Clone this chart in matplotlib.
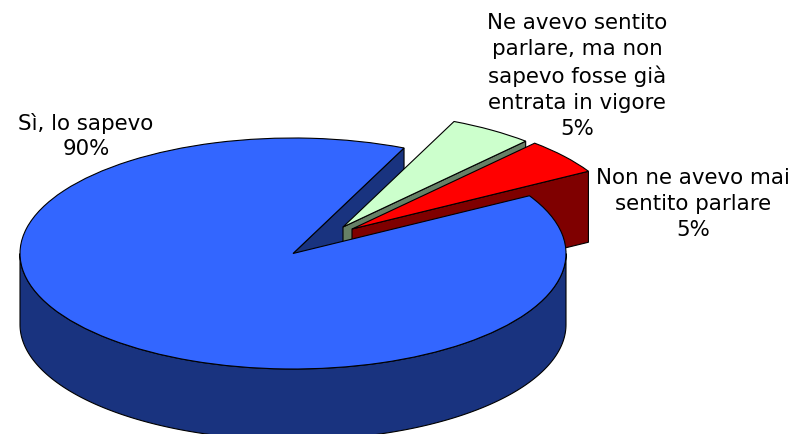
import numpy as np
import matplotlib
matplotlib.use("Agg")
import matplotlib.pyplot as plt

# dati
labels = ["Sì, lo sapevo",
          "Non ne avevo mai\nsentito parlare",
          "Ne avevo sentito\nparlare, ma non\nsapevo fosse già\nentrata in vigore"]
values = [90, 5, 5]

colors = ["#3366FF", "#FF0000", "#CCFFCC"]
dark_colors = ["#19337F", "#7F0000", "#668066"]

W, H = 791, 434
CX, CY = 293, 253.5
RX, RY = 273, 115.5
depth = 71 / RY
start_angle = 66
offsets = [(0, 0), (59 / RX, 24.5 / RY), (50 / RX, 26.5 / RY)]
label_pos = [(86, 136), (693, 204), (577, 76)]

fig = plt.figure(figsize=(W / 100, H / 100), dpi=100)
ax = fig.add_axes([0, 0, 1, 1])

wedges, _ = ax.pie(values, colors=colors, startangle=start_angle, radius=1,
                   wedgeprops=dict(edgecolor="black", linewidth=0.8))
ax.set_aspect("auto")
ax.set_xlim(-CX / RX, (W - CX) / RX)
ax.set_ylim(-(H - CY) / RY, CY / RY)
ax.axis("off")

edge = dict(edgecolor="black", linewidth=0.8)


def cut_wall(off, angle, color, z):
    # parete piana lungo il raggio della fetta
    a = np.radians(angle)
    x = off[0] + np.cos(a)
    y = off[1] + np.sin(a)
    ax.fill([off[0], x, x, off[0]], [off[1], y, y - depth, off[1] - depth],
            facecolor=color, zorder=z, **edge)


def rim_wall(off, a1, a2, color, z):
    # parete curva, solo la parte davanti
    t = np.radians(np.linspace(a1, a2, 200))
    x = off[0] + np.cos(t)
    y = off[1] + np.sin(t)
    ax.fill(np.r_[x, x[::-1]], np.r_[y, y[::-1] - depth],
            facecolor=color, zorder=z, **edge)


angles = start_angle + np.cumsum([0] + values) * 3.6
main_end = angles[1] - 360
red_end = angles[2] - 360

# dal fondo verso il davanti
cut_wall(offsets[0], start_angle, dark_colors[0], 1)
cut_wall(offsets[2], red_end, dark_colors[2], 2)
wedges[2].set_center(offsets[2])
wedges[2].set_zorder(3)
cut_wall(offsets[1], main_end, dark_colors[1], 4)
wedges[1].set_center(offsets[1])
wedges[1].set_zorder(5)
rim_wall(offsets[0], 180, 360, dark_colors[0], 6)
wedges[0].set_zorder(7)

for lab, val, (px, py) in zip(labels, values, label_pos):
    ax.text((px - CX) / RX, (CY - py) / RY, f"{lab}\n{val}%", ha="center", va="center",
            fontsize=15.4, family="DejaVu Sans", color="black", linespacing=1.37, zorder=8)

fig.savefig("out.png", dpi=100)
